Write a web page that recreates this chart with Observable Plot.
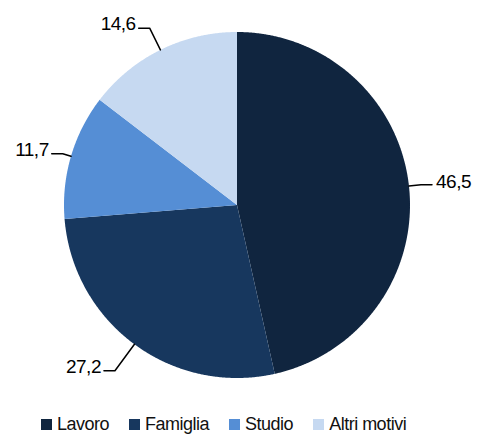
<!DOCTYPE html>
<html><head><meta charset="utf-8">
<script src="https://cdn.jsdelivr.net/npm/d3@7"></script>
<script src="https://cdn.jsdelivr.net/npm/@observablehq/plot@0.6"></script>
<style>
body{margin:0;background:#fff;font-family:"Liberation Sans",Arial,sans-serif;}
#chart{width:480px;height:436px;position:relative;overflow:hidden;}
#chart svg{display:block;}
#chart svg text{letter-spacing:-0.5px;}
.lg-swatches{margin:8px 0 0 0 !important;padding-left:41px !important;min-height:0 !important;height:36px !important;display:flex !important;align-items:center !important;letter-spacing:-0.5px;}
.lg-swatch{margin-right:20px !important;}
.lg-swatch > svg{margin-right:5px !important;}
</style></head>
<body><div id="chart"></div>
<script>
const categories = ["Lavoro", "Famiglia", "Studio", "Altri motivi"];
const values = [46.5, 27.2, 11.7, 14.6];
const valueLabels = ["46,5", "27,2", "11,7", "14,6"];
const colors = ["#10253F", "#17375E", "#558ED5", "#C6D9F1"];
// leader elbow distance (in pie radii), layout only
const elbowRadius = [1.07, 1.19, 1.05, 1.14];

const R = 173, cx = 236.5, cy = 204.5;
const FONT = "'Liberation Sans', Arial, sans-serif";
const arcs = d3.pie().sort(null).value(d => d)(values);

const slicePts = [];
arcs.forEach((a, i) => {
  const cat = categories[i];
  slicePts.push({cat, x: 0, y: 0});
  const n = Math.max(2, Math.ceil((a.endAngle - a.startAngle) / 0.005));
  for (let k = 0; k <= n; k++) {
    const t = a.startAngle + (a.endAngle - a.startAngle) * k / n;
    slicePts.push({cat, x: Math.sin(t), y: Math.cos(t)});
  }
  slicePts.push({cat, x: 0, y: 0});
});

const leaders = [], labels = [];
const hseg = 11 / R;
arcs.forEach((a, i) => {
  const m = (a.startAngle + a.endAngle) / 2;
  const side = Math.sin(m) >= 0 ? 1 : -1;
  const bx = Math.sin(m) * elbowRadius[i], by = Math.cos(m) * elbowRadius[i];
  leaders.push({cat: categories[i], x: Math.sin(m), y: Math.cos(m)});
  leaders.push({cat: categories[i], x: bx, y: by});
  leaders.push({cat: categories[i], x: bx + side * hseg, y: by});
  labels.push({text: valueLabels[i], x: bx + side * hseg, y: by, side});
});

const plot = Plot.plot({
  width: 480, height: 398,
  margin: 0,
  x: {type: "linear", domain: [-1, 1], range: [cx - R, cx + R], axis: null},
  y: {type: "linear", domain: [-1, 1], range: [cy + R, cy - R], axis: null},
  color: {domain: categories, range: colors},
  style: {fontFamily: FONT, background: "#fff", color: "#000"},
  marks: [
    Plot.line(slicePts, {x: "x", y: "y", z: "cat", fill: "cat", stroke: "none", curve: "linear"}),
    Plot.line(leaders, {x: "x", y: "y", z: "cat", stroke: "#000", strokeWidth: 1.5}),
    Plot.text(labels.filter(d => d.side > 0), {x: "x", y: "y", text: "text", textAnchor: "start", lineAnchor: "bottom", dx: 4, dy: 3, fontSize: 19, fill: "#000"}),
    Plot.text(labels.filter(d => d.side < 0), {x: "x", y: "y", text: "text", textAnchor: "end", lineAnchor: "bottom", dx: -3, dy: 2, fontSize: 19, fill: "#000"})
  ]
});

const legend = Plot.legend({
  color: {domain: categories, range: colors},
  legend: "swatches",
  swatchSize: 11,
  className: "lg",
  style: {fontSize: "18px", fontFamily: FONT, color: "#111"}
});

const el = document.getElementById("chart");
el.appendChild(plot);
el.appendChild(legend);
</script>
</body></html>
